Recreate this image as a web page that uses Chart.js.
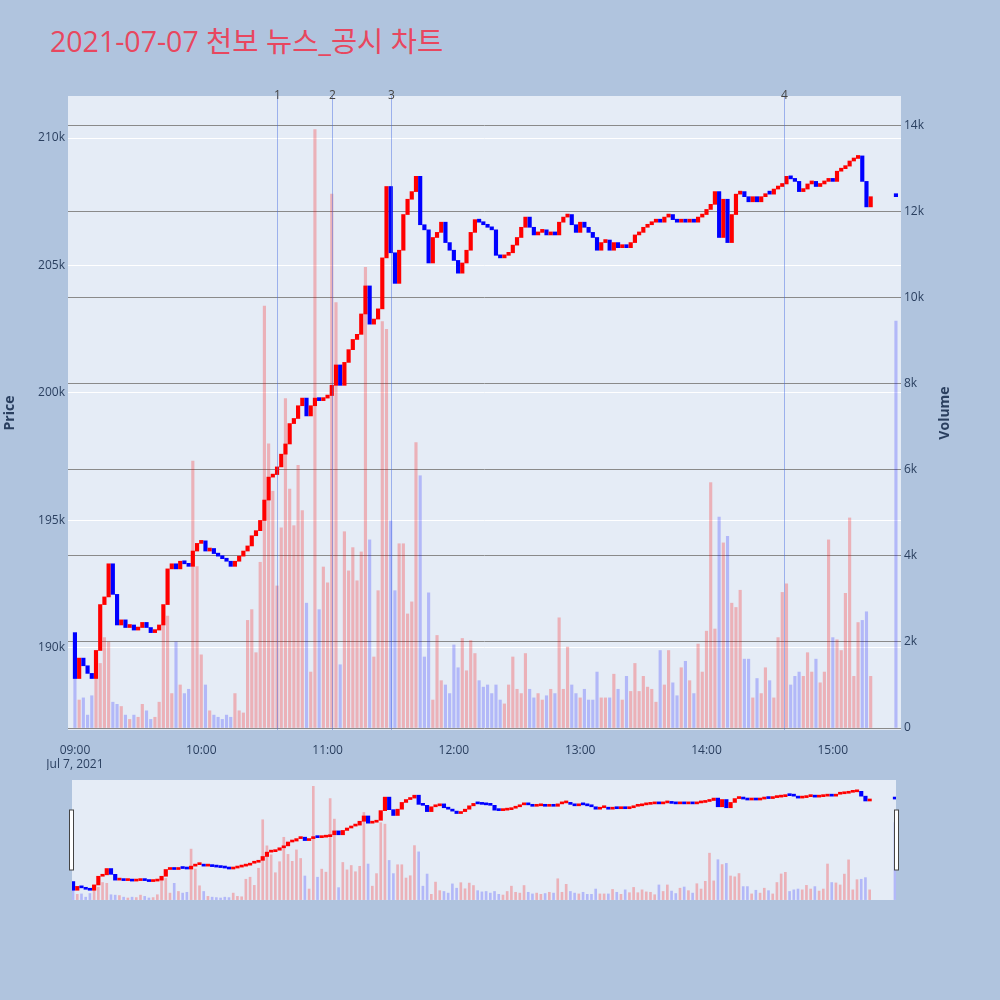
<!DOCTYPE html>
<html>
<head>
<meta charset="utf-8">
<script src="https://cdn.jsdelivr.net/npm/chart.js@4.4.1/dist/chart.umd.min.js"></script>
<style>
  body { margin: 0; background: #b0c4de; width: 1000px; height: 1000px; position: relative; overflow: hidden;
         font-family: "Open Sans", "Noto Sans CJK KR", sans-serif; }
  #title { position: absolute; left: 50px; top: 19px; font-size: 28.5px; color: #e8475f; white-space: nowrap; }
  #main { position: absolute; left: 0; top: 0; }
  #slider { position: absolute; left: 0; top: 770px; }
</style>
</head>
<body>
<div id="title">2021-07-07 천보 뉴스_공시 차트</div>
<canvas id="main" width="1000" height="770"></canvas>
<canvas id="slider" width="1000" height="140"></canvas>
<script>
/* ======== Data (2-minute samples from 09:00, plus 15:30 close) ======== */
const openPrice = 190600;
const closes = [
  188800,189600,189300,189000,188800,189900,191700,192000,193300,192100,
  190900,191100,190800,190900,190700,190800,191000,190800,190600,190700,
  190900,191700,193100,193300,193100,193400,193300,193200,193800,194100,
  194200,193800,193900,193700,193600,193500,193400,193200,193400,193600,
  193800,194000,194400,194600,195000,195800,196700,196800,197100,197600,
  198000,198800,199000,199500,199800,199100,199500,199800,199700,199800,
  199900,200300,201100,200300,201200,201700,202100,202300,203100,204200,
  202700,202900,203300,205300,208100,205500,204300,205600,207000,207600,
  207900,208500,206600,206400,205100,206100,206300,206700,205900,205600,
  205200,204700,205100,205600,206300,206800,206700,206600,206500,206400,
  205400,205300,205400,205500,205800,206100,206500,206900,206500,206200,
  206300,206400,206200,206300,206200,206700,206900,207000,206600,206300,
  206700,206500,206300,206100,205600,205900,206000,205600,205900,205700,
  205800,205700,205900,206200,206300,206500,206600,206700,206800,206700,
  206900,207000,206800,206700,206800,206700,206800,206700,206900,207000,
  207200,207400,207900,206100,207600,205900,207000,207800,207900,207700,
  207500,207700,207500,207700,207800,207800,208000,208100,208200,208500,
  208400,208300,207900,208000,208200,208300,208100,208200,208300,208400,
  208300,208700,208800,208900,209100,209200,209300,208300,207300,207700,
  207700
];
const volumes = [
  1580,650,700,300,750,1800,1500,2100,2000,600,
  550,500,300,200,300,250,550,400,200,250,
  600,2500,2600,800,2000,1000,800,900,6200,3750,
  1700,1000,400,300,250,200,300,250,800,400,
  350,2500,2750,1750,3850,9800,6600,5500,3300,4650,
  7650,5550,4700,6100,5050,2900,1300,13900,2750,3740,
  3370,12400,9880,1470,4560,3650,4190,3420,4090,10700,
  4370,1650,3190,9440,9260,4810,3190,4280,4280,2650,
  2930,6630,5860,1650,3140,650,2150,1100,1000,800,
  1930,1400,2080,1330,2030,1730,1100,950,1000,800,
  1000,650,560,1000,1650,900,800,1730,900,700,
  800,650,750,900,800,2560,900,1880,1000,800,
  700,900,650,650,1300,700,700,700,1250,900,
  650,1200,850,1500,850,1200,950,900,600,1800,
  1000,1800,1050,750,1400,1550,1100,800,1950,1300,
  2250,5700,2300,4900,4300,4450,2900,2800,3200,1600,
  1600,700,1150,800,1400,1100,700,2100,3150,3350,
  1000,1200,1300,1200,1750,1300,1600,1050,1300,4370,
  2100,2050,1800,3130,4880,1200,2450,2500,2700,1200,
  9450
];
// minutes after 09:00
const minutes = [];
for (let m = 0; m <= 378; m += 2) minutes.push(m);
minutes.push(390);

const newsMinutes = [96, 122, 150, 337];
const newsLabels = ['1', '2', '3', '4'];
const priceTicks = [190000, 195000, 200000, 205000, 210000];
const volumeTicks = [0, 2000, 4000, 6000, 8000, 10000, 12000, 14000];
const timeTicks = [0, 60, 120, 180, 240, 300, 360];
const dateLabel = 'Jul 7, 2021';

/* ======== Derived datasets ======== */
const UP = '#ff0000', DOWN = '#0000ff';
const candleData = [], candleColors = [], volData = [], volColors = [];
closes.forEach((c, i) => {
    const prev = i === 0 ? openPrice : closes[i - 1];
    const up = c > prev;
    candleData.push({ x: minutes[i], y: [prev, c] });
    candleColors.push(up ? UP : DOWN);
    volData.push({ x: minutes[i], y: volumes[i] });
    volColors.push(up ? 'rgba(255,0,0,0.25)' : 'rgba(0,0,255,0.22)');
});

const FONT = "'Open Sans', 'Noto Sans CJK KR', sans-serif";
const INK = '#2a3f5f';
const PRICE_RANGE = { min: 186780, max: 211650 };
const VOL_RANGE = { min: -46, max: 14680 };
const setTicks = (list) => (s) => { s.ticks = list.map(v => ({ value: v })); };

const plotBg = {
    id: 'plotBg',
    beforeDraw(chart) {
        const { ctx, chartArea: a } = chart;
        ctx.save();
        ctx.fillStyle = '#e5ecf6';
        ctx.fillRect(a.left, a.top, a.right - a.left, a.bottom - a.top);
        ctx.restore();
    }
};

const newsLines = {
    id: 'newsLines',
    afterDatasetsDraw(chart) {
        const { ctx, chartArea: a, scales } = chart;
        ctx.save();
        ctx.strokeStyle = 'rgba(65,105,225,0.45)';
        ctx.lineWidth = 1;
        ctx.fillStyle = '#444';
        ctx.font = '12px ' + FONT;
        ctx.textAlign = 'center';
        ctx.textBaseline = 'middle';
        newsMinutes.forEach((m, i) => {
            const x = Math.round(scales.x.getPixelForValue(m)) + 0.5;
            ctx.beginPath();
            ctx.moveTo(x, a.top);
            ctx.lineTo(x, a.bottom);
            ctx.stroke();
            ctx.fillText(newsLabels[i], x, a.top);
        });
        ctx.restore();
    }
};

const axisTitles = {
    id: 'axisTitles',
    afterDraw(chart) {
        const { ctx, chartArea: a } = chart;
        const cy = (a.top + a.bottom) / 2;
        ctx.save();
        ctx.fillStyle = INK;
        ctx.font = 'bold 14px ' + FONT;
        ctx.textAlign = 'center';
        ctx.textBaseline = 'middle';
        [['Price', 10], ['Volume', 945]].forEach(([t, x]) => {
            ctx.save();
            ctx.translate(x, cy);
            ctx.rotate(-Math.PI / 2);
            ctx.fillText(t, 0, 0);
            ctx.restore();
        });
        ctx.restore();
    }
};

function hhmm(v) {
    const h = 9 + Math.floor(v / 60), m = v % 60;
    return String(h).padStart(2, '0') + ':' + String(m).padStart(2, '0');
}

/* ======== Main chart ======== */
new Chart(document.getElementById('main'), {
    type: 'bar',
    data: {
        datasets: [
            { label: 'Price', data: candleData, yAxisID: 'yPrice', backgroundColor: candleColors,
              barThickness: 3.5, minBarLength: 3, grouped: false, order: 0 },
            { label: 'Volume', data: volData, yAxisID: 'yVol', backgroundColor: volColors,
              barThickness: 2.5, grouped: false, order: 1 }
        ]
    },
    options: {
        responsive: false,
        animation: false,
        layout: { padding: { top: 96, left: 0, right: 0, bottom: 0 } },
        plugins: { legend: { display: false }, tooltip: { enabled: false } },
        scales: {
            x: {
                type: 'linear', min: -3.3, max: 392.4, offset: false,
                grid: { display: false }, border: { display: false },
                afterBuildTicks: setTicks(timeTicks),
                ticks: {
                    maxRotation: 0, padding: 5, autoSkip: false,
                    color: INK, font: { family: FONT, size: 12 },
                    callback: (v) => v === 0 ? [hhmm(v), dateLabel] : hhmm(v)
                },
                afterFit: (s) => { s.height = 40; }
            },
            yPrice: {
                position: 'left', min: PRICE_RANGE.min, max: PRICE_RANGE.max,
                grid: { color: '#ffffff', lineWidth: 1, drawTicks: false }, border: { display: false },
                afterBuildTicks: setTicks(priceTicks),
                ticks: { padding: 3, color: INK, font: { family: FONT, size: 12 }, callback: (v) => (v / 1000) + 'k' },
                afterFit: (s) => { s.width = 68; }
            },
            yVol: {
                position: 'right', min: VOL_RANGE.min, max: VOL_RANGE.max,
                grid: { color: '#8a8a8a', lineWidth: 1, drawTicks: false }, border: { display: false },
                afterBuildTicks: setTicks(volumeTicks),
                ticks: { padding: 3, color: INK, font: { family: FONT, size: 12 },
                         callback: (v) => v === 0 ? '0' : (v / 1000) + 'k' },
                afterFit: (s) => { s.width = 99; }
            }
        }
    },
    plugins: [plotBg, newsLines, axisTitles]
});

/* ======== Range slider ======== */
const handles = {
    id: 'handles',
    afterDraw(chart) {
        const { ctx, chartArea: a } = chart;
        const top = a.top + 30, h = 60;
        ctx.save();
        ctx.fillStyle = '#ffffff';
        ctx.strokeStyle = '#444';
        ctx.lineWidth = 1;
        [a.left - 2.5, a.right - 1.5].forEach(x => {
            ctx.fillRect(x, top, 4, h);
            ctx.strokeRect(x, top, 4, h);
        });
        ctx.restore();
    }
};

new Chart(document.getElementById('slider'), {
    type: 'bar',
    data: {
        datasets: [
            { data: candleData, yAxisID: 'yPrice', backgroundColor: candleColors,
              barThickness: 3.5, minBarLength: 2, grouped: false, order: 0 },
            { data: volData, yAxisID: 'yVol', backgroundColor: volColors,
              barThickness: 2, grouped: false, order: 1 }
        ]
    },
    options: {
        responsive: false,
        animation: false,
        layout: { padding: { top: 10, left: 72, right: 104, bottom: 10 } },
        plugins: { legend: { display: false }, tooltip: { enabled: false } },
        scales: {
            x: { type: 'linear', min: -0.5, max: 390.5, offset: false, display: false },
            yPrice: { position: 'left', min: PRICE_RANGE.min, max: PRICE_RANGE.max, display: false },
            yVol: { position: 'right', min: VOL_RANGE.min, max: VOL_RANGE.max, display: false }
        }
    },
    plugins: [plotBg, handles]
});
</script>
</body>
</html>
